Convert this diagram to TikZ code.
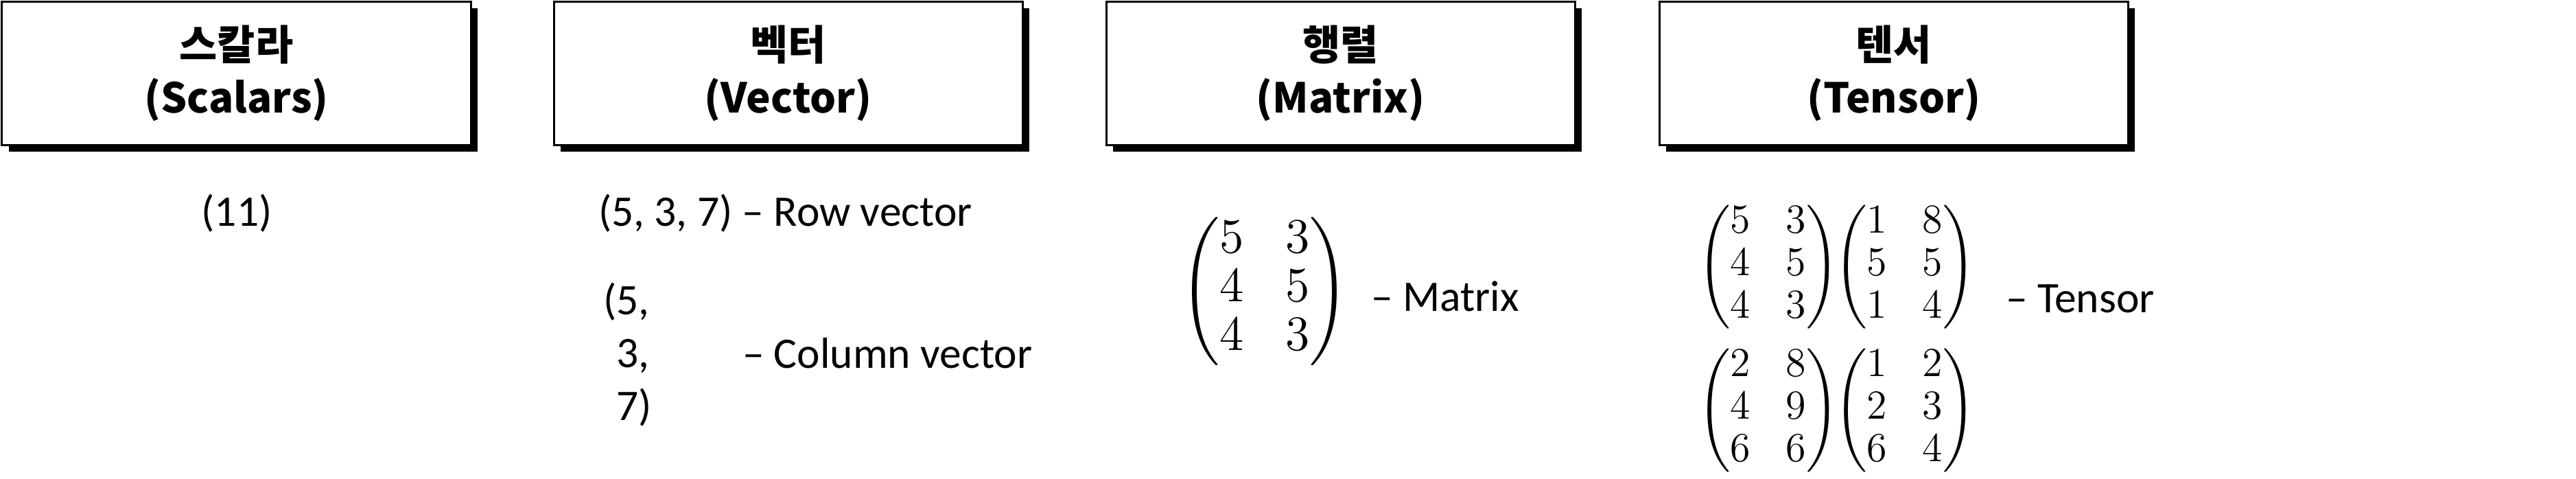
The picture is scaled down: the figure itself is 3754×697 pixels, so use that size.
\documentclass[tikz,border=0pt]{standalone}
\usepackage{amsmath}
\usepackage{fontspec}
\newfontfamily\kofont{Noto Sans CJK KR}
\newfontfamily\bodyfont{Carlito}
\usepackage{tikz}
\usetikzlibrary{shadows}

\begin{document}
\begin{tikzpicture}[x=0.2pt,y=-0.2pt,
  headbox/.style={draw, line width=0.6pt, fill=white, inner sep=0pt,
    minimum width=136.6pt, minimum height=41.8pt, align=center,
    drop shadow={shadow xshift=2pt, shadow yshift=-2pt, fill=black, opacity=1},
    font=\kofont\bfseries\fontsize{12}{15.4}\selectfont},
  txt/.style={inner sep=0pt, font=\bodyfont\fontsize{12.7}{15.4}\selectfont},
  mat/.style={inner sep=0pt, font=\fontsize{14}{14.2}\selectfont},
  tens/.style={inner sep=0pt, font=\fontsize{11.5}{12.4}\selectfont}]
\useasboundingbox (0,0) rectangle (3754,697);
% header boxes
\node[headbox] (scalar) at (344.5,106.5) {스칼라\\(Scalars)};
\node[headbox] (vector) at (1148.5,106.5) {벡터\\(Vector)};
\node[headbox] (matrix) at (1953.5,106.5) {행렬\\(Matrix)};
\node[headbox] (tensor) at (2759.5,106.5) {텐서\\(Tensor)};
% scalar
\node[txt] (s1) at (345,311) {(11)};
% vector
\node[txt, anchor=west] (v1) at (871,311) {(5, 3, 7) – Row vector};
\node[txt, anchor=west, align=left] (v2) at (878,517) {(5,\\\phantom{(}3,\\\phantom{(}7)};
\node[txt, anchor=west] (v2l) at (1081,515) {– Column vector};
% matrix
\node[mat] (m1) at (1843,425) {$\setlength\arraycolsep{6.1pt}\begin{pmatrix}5&3\\4&5\\4&3\end{pmatrix}$};
\node[txt, anchor=west] (m1l) at (1997,432) {– Matrix};
% tensor
\node[tens] (t1) at (2577,389) {$\setlength\arraycolsep{5.2pt}\begin{pmatrix}5&3\\4&5\\4&3\end{pmatrix}$};
\node[tens] (t2) at (2776,389) {$\setlength\arraycolsep{5.2pt}\begin{pmatrix}1&8\\5&5\\1&4\end{pmatrix}$};
\node[tens] (t3) at (2577,598) {$\setlength\arraycolsep{5.2pt}\begin{pmatrix}2&8\\4&9\\6&6\end{pmatrix}$};
\node[tens] (t4) at (2776,598) {$\setlength\arraycolsep{5.2pt}\begin{pmatrix}1&2\\2&3\\6&4\end{pmatrix}$};
\node[txt, anchor=west] (t1l) at (2922,435) {– Tensor};
\end{tikzpicture}
\end{document}
